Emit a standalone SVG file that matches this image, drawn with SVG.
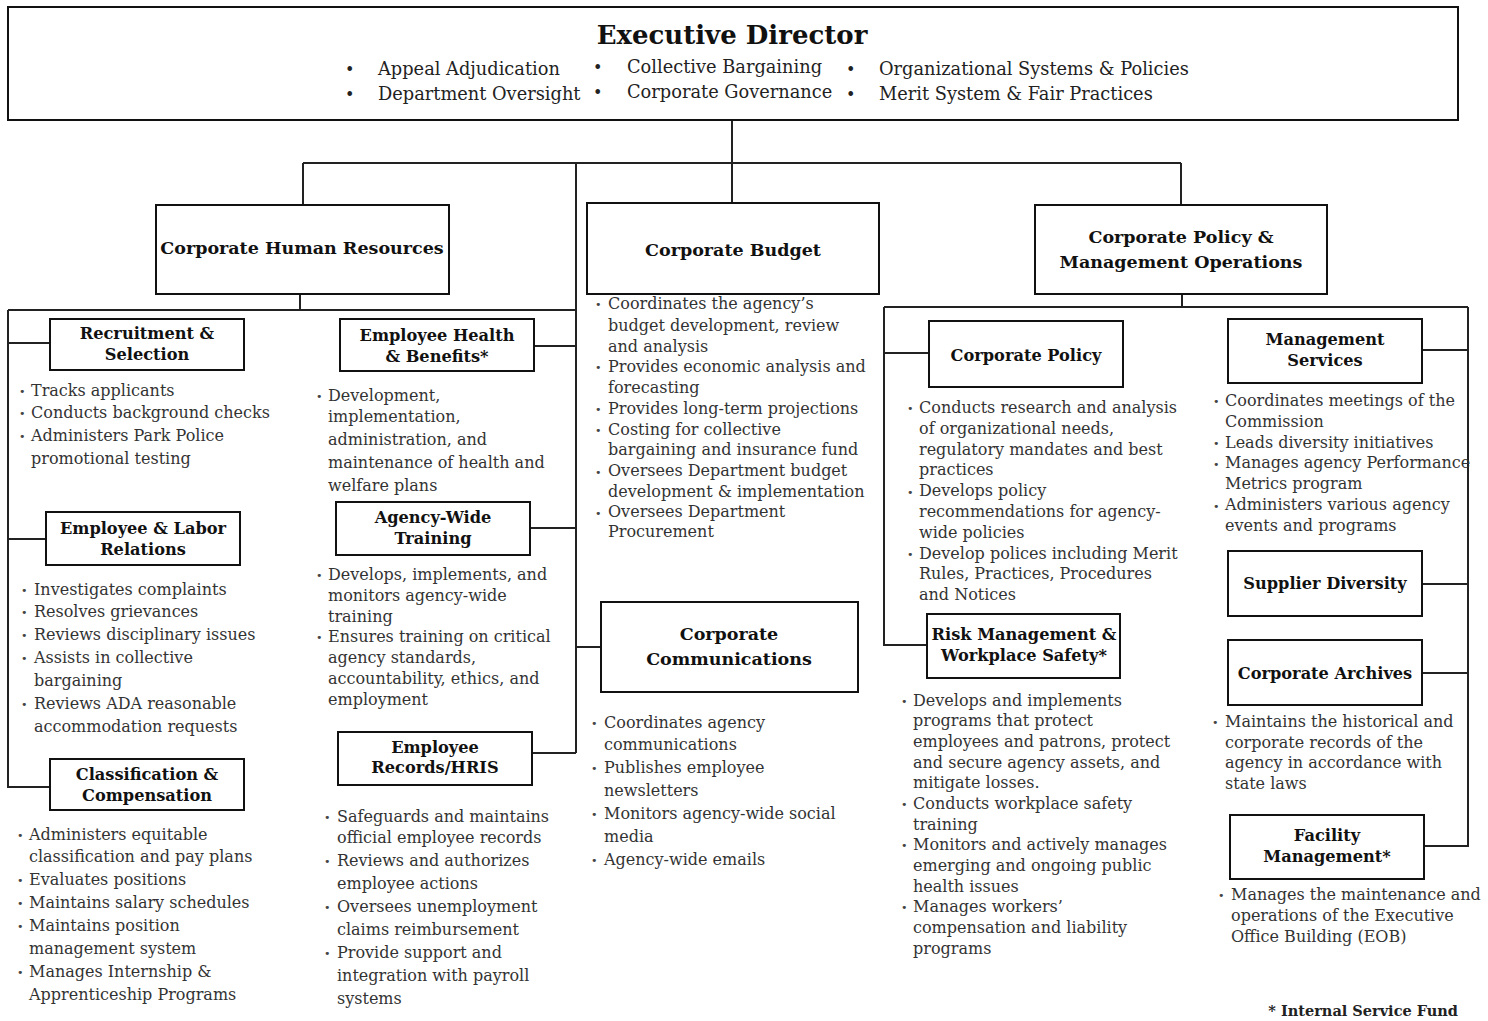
<svg xmlns="http://www.w3.org/2000/svg" width="1488" height="1021" viewBox="0 0 1488 1021">
<style>
.box{fill:#fff;stroke:#111;stroke-width:2}
.ln{fill:none;stroke:#222;stroke-width:2}
.h{font-family:"DejaVu Serif","Liberation Serif",serif;font-weight:bold;font-size:16.2px;fill:#111;text-anchor:middle}
.hl{font-size:17.5px}
.t{font-family:"DejaVu Serif","Liberation Serif",serif;font-size:16px;fill:#333}
.tb{font-family:"DejaVu Serif","Liberation Serif",serif;font-size:16px;fill:#333}
.b{font-family:"DejaVu Sans",sans-serif;font-size:11px;fill:#444}
.top{font-family:"DejaVu Serif","Liberation Serif",serif;font-size:17.8px;fill:#222}
</style>
<rect width="1488" height="1021" fill="#fff"/>
<g id="connectors">
<path class="ln" d="M732 120V203M303 163H1181M303 163V205M1181 163V205M576 163V753"/>
<path class="ln" d="M300 294V310M8 310H576M8 310V787H50M8 343H50M8 539H46M534 346H576M530 528H576M532 753H576M576 647H601"/>
<path class="ln" d="M1182 294V307M884 307H1468M884 307V645H927M884 353H929M1468 307V846H1424M1422 350H1468M1422 584H1468M1422 673H1468"/>
</g>
<g id="exec">
<rect class="box" x="8" y="7" width="1450" height="113"/>
<text x="732" y="44" style="font-family:'DejaVu Serif','Liberation Serif',serif;font-weight:bold;font-size:26px;fill:#111;text-anchor:middle">Executive Director</text>
<text class="top" style="font-size:16px"><tspan x="345" y="75">•</tspan><tspan x="345" y="100">•</tspan><tspan x="593" y="73">•</tspan><tspan x="593" y="98">•</tspan><tspan x="846" y="75">•</tspan><tspan x="846" y="100">•</tspan></text>
<text class="top"><tspan x="378" y="75">Appeal Adjudication</tspan><tspan x="378" y="100">Department Oversight</tspan><tspan x="627" y="73">Collective Bargaining</tspan><tspan x="627" y="98">Corporate Governance</tspan><tspan x="879" y="75">Organizational Systems &amp; Policies</tspan><tspan x="879" y="100">Merit System &amp; Fair Practices</tspan></text>
</g>
<g id="chr">
<rect class="box" x="156" y="205" width="293" height="89"/>
<text class="h hl" x="302" y="254">Corporate Human Resources</text>
</g>
<g id="budget">
<rect class="box" x="587" y="203" width="292" height="91"/>
<text class="h hl" x="733" y="256">Corporate Budget</text>
<text class="b"><tspan x="595" y="308">•</tspan><tspan x="595" y="371">•</tspan><tspan x="595" y="413">•</tspan><tspan x="595" y="434">•</tspan><tspan x="595" y="476">•</tspan><tspan x="595" y="517">•</tspan></text>
<text class="t"><tspan x="608" y="309">Coordinates the agency’s</tspan><tspan x="608" y="331">budget development, review</tspan><tspan x="608" y="352">and analysis</tspan><tspan x="608" y="372">Provides economic analysis and</tspan><tspan x="608" y="393">forecasting</tspan><tspan x="608" y="414">Provides long-term projections</tspan><tspan x="608" y="435">Costing for collective</tspan><tspan x="608" y="455">bargaining and insurance fund</tspan><tspan x="608" y="476">Oversees Department budget</tspan><tspan x="608" y="497">development &amp; implementation</tspan><tspan x="608" y="517">Oversees Department</tspan><tspan x="608" y="537">Procurement</tspan></text>
</g>
<g id="cpmo">
<rect class="box" x="1035" y="205" width="292" height="89"/>
<text class="h hl" x="1181" y="243">Corporate Policy &amp;</text>
<text class="h hl" x="1181" y="268">Management Operations</text>
</g>
<g id="recruit">
<rect class="box" x="50" y="319" width="194" height="51"/>
<text class="h" x="147" y="339">Recruitment &amp;</text>
<text class="h" x="147" y="360">Selection</text>
<text class="b"><tspan x="19" y="395">•</tspan><tspan x="19" y="417">•</tspan><tspan x="19" y="440">•</tspan></text>
<text class="tb"><tspan x="31" y="396">Tracks applicants</tspan><tspan x="31" y="418">Conducts background checks</tspan><tspan x="31" y="441">Administers Park Police</tspan><tspan x="31" y="464">promotional testing</tspan></text>
</g>
<g id="health">
<rect class="box" x="340" y="319" width="194" height="52"/>
<text class="h" x="437" y="341">Employee Health</text>
<text class="h" x="437" y="362">&amp; Benefits*</text>
<text class="b"><tspan x="316" y="400">•</tspan></text>
<text class="tb"><tspan x="328" y="401">Development,</tspan><tspan x="328" y="422">implementation,</tspan><tspan x="328" y="445">administration, and</tspan><tspan x="328" y="468">maintenance of health and</tspan><tspan x="328" y="491">welfare plans</tspan></text>
</g>
<g id="labor">
<rect class="box" x="46" y="512" width="194" height="53"/>
<text class="h" x="143" y="534">Employee &amp; Labor</text>
<text class="h" x="143" y="555">Relations</text>
<text class="b"><tspan x="21" y="594">•</tspan><tspan x="21" y="616">•</tspan><tspan x="21" y="639">•</tspan><tspan x="21" y="662">•</tspan><tspan x="21" y="708">•</tspan></text>
<text class="tb"><tspan x="34" y="595">Investigates complaints</tspan><tspan x="34" y="617">Resolves grievances</tspan><tspan x="34" y="640">Reviews disciplinary issues</tspan><tspan x="34" y="663">Assists in collective</tspan><tspan x="34" y="686">bargaining</tspan><tspan x="34" y="709">Reviews ADA reasonable</tspan><tspan x="34" y="732">accommodation requests</tspan></text>
</g>
<g id="training">
<rect class="box" x="336" y="502" width="194" height="53"/>
<text class="h" x="433" y="523">Agency-Wide</text>
<text class="h" x="433" y="544">Training</text>
<text class="b"><tspan x="316" y="579">•</tspan><tspan x="316" y="641">•</tspan></text>
<text class="tb"><tspan x="328" y="580">Develops, implements, and</tspan><tspan x="328" y="601">monitors agency-wide</tspan><tspan x="328" y="622">training</tspan><tspan x="328" y="642">Ensures training on critical</tspan><tspan x="328" y="663">agency standards,</tspan><tspan x="328" y="684">accountability, ethics, and</tspan><tspan x="328" y="705">employment</tspan></text>
</g>
<g id="classif">
<rect class="box" x="50" y="759" width="194" height="51"/>
<text class="h" x="147" y="780">Classification &amp;</text>
<text class="h" x="147" y="801">Compensation</text>
<text class="b"><tspan x="17" y="839">•</tspan><tspan x="17" y="884">•</tspan><tspan x="17" y="907">•</tspan><tspan x="17" y="930">•</tspan><tspan x="17" y="976">•</tspan></text>
<text class="tb"><tspan x="29" y="840">Administers equitable</tspan><tspan x="29" y="862">classification and pay plans</tspan><tspan x="29" y="885">Evaluates positions</tspan><tspan x="29" y="908">Maintains salary schedules</tspan><tspan x="29" y="931">Maintains position</tspan><tspan x="29" y="954">management system</tspan><tspan x="29" y="977">Manages Internship &amp;</tspan><tspan x="29" y="1000">Apprenticeship Programs</tspan></text>
</g>
<g id="records">
<rect class="box" x="338" y="732" width="194" height="53"/>
<text class="h" x="435" y="753">Employee</text>
<text class="h" x="435" y="773">Records/HRIS</text>
<text class="b"><tspan x="324" y="821">•</tspan><tspan x="324" y="865">•</tspan><tspan x="324" y="911">•</tspan><tspan x="324" y="957">•</tspan></text>
<text class="tb"><tspan x="337" y="822">Safeguards and maintains</tspan><tspan x="337" y="843">official employee records</tspan><tspan x="337" y="866">Reviews and authorizes</tspan><tspan x="337" y="889">employee actions</tspan><tspan x="337" y="912">Oversees unemployment</tspan><tspan x="337" y="935">claims reimbursement</tspan><tspan x="337" y="958">Provide support and</tspan><tspan x="337" y="981">integration with payroll</tspan><tspan x="337" y="1004">systems</tspan></text>
</g>
<g id="comms">
<rect class="box" x="601" y="602" width="257" height="90"/>
<text class="h hl" x="729" y="640">Corporate</text>
<text class="h hl" x="729" y="665">Communications</text>
<text class="b"><tspan x="591" y="727">•</tspan><tspan x="591" y="772">•</tspan><tspan x="591" y="818">•</tspan><tspan x="591" y="864">•</tspan></text>
<text class="tb"><tspan x="604" y="728">Coordinates agency</tspan><tspan x="604" y="750">communications</tspan><tspan x="604" y="773">Publishes employee</tspan><tspan x="604" y="796">newsletters</tspan><tspan x="604" y="819">Monitors agency-wide social</tspan><tspan x="604" y="842">media</tspan><tspan x="604" y="865">Agency-wide emails</tspan></text>
</g>
<g id="policy">
<rect class="box" x="929" y="321" width="194" height="66"/>
<text class="h" x="1026" y="361">Corporate Policy</text>
<text class="b"><tspan x="907" y="412">•</tspan><tspan x="907" y="496">•</tspan><tspan x="907" y="558">•</tspan></text>
<text class="t"><tspan x="919" y="413">Conducts research and analysis</tspan><tspan x="919" y="434">of organizational needs,</tspan><tspan x="919" y="455">regulatory mandates and best</tspan><tspan x="919" y="475">practices</tspan><tspan x="919" y="496">Develops policy</tspan><tspan x="919" y="517">recommendations for agency-</tspan><tspan x="919" y="538">wide policies</tspan><tspan x="919" y="559">Develop polices including Merit</tspan><tspan x="919" y="579">Rules, Practices, Procedures</tspan><tspan x="919" y="600">and Notices</tspan></text>
</g>
<g id="risk">
<rect class="box" x="927" y="614" width="193" height="64"/>
<text class="h" x="1024" y="640">Risk Management &amp;</text>
<text class="h" x="1024" y="661">Workplace Safety*</text>
<text class="b"><tspan x="901" y="705">•</tspan><tspan x="901" y="808">•</tspan><tspan x="901" y="849">•</tspan><tspan x="901" y="911">•</tspan></text>
<text class="t"><tspan x="913" y="706">Develops and implements</tspan><tspan x="913" y="726">programs that protect</tspan><tspan x="913" y="747">employees and patrons, protect</tspan><tspan x="913" y="768">and secure agency assets, and</tspan><tspan x="913" y="788">mitigate losses.</tspan><tspan x="913" y="809">Conducts workplace safety</tspan><tspan x="913" y="830">training</tspan><tspan x="913" y="850">Monitors and actively manages</tspan><tspan x="913" y="871">emerging and ongoing public</tspan><tspan x="913" y="892">health issues</tspan><tspan x="913" y="912">Manages workers’</tspan><tspan x="913" y="933">compensation and liability</tspan><tspan x="913" y="954">programs</tspan></text>
</g>
<g id="mgmt">
<rect class="box" x="1228" y="319" width="194" height="64"/>
<text class="h" x="1325" y="345">Management</text>
<text class="h" x="1325" y="366">Services</text>
<text class="b"><tspan x="1213" y="405">•</tspan><tspan x="1213" y="447">•</tspan><tspan x="1213" y="468">•</tspan><tspan x="1213" y="510">•</tspan></text>
<text class="t"><tspan x="1225" y="406">Coordinates meetings of the</tspan><tspan x="1225" y="427">Commission</tspan><tspan x="1225" y="448">Leads diversity initiatives</tspan><tspan x="1225" y="468">Manages agency Performance</tspan><tspan x="1225" y="489">Metrics program</tspan><tspan x="1225" y="510">Administers various agency</tspan><tspan x="1225" y="531">events and programs</tspan></text>
</g>
<g id="supplier">
<rect class="box" x="1228" y="551" width="194" height="65"/>
<text class="h" x="1325" y="589">Supplier Diversity</text>
</g>
<g id="archives">
<rect class="box" x="1228" y="640" width="194" height="65"/>
<text class="h" x="1325" y="679">Corporate Archives</text>
<text class="b"><tspan x="1212" y="726">•</tspan></text>
<text class="t"><tspan x="1225" y="727">Maintains the historical and</tspan><tspan x="1225" y="748">corporate records of the</tspan><tspan x="1225" y="768">agency in accordance with</tspan><tspan x="1225" y="789">state laws</tspan></text>
</g>
<g id="facility">
<rect class="box" x="1230" y="815" width="194" height="64"/>
<text class="h" x="1327" y="841">Facility</text>
<text class="h" x="1327" y="862">Management*</text>
<text class="b"><tspan x="1218" y="899">•</tspan></text>
<text class="t"><tspan x="1231" y="900">Manages the maintenance and</tspan><tspan x="1231" y="921">operations of the Executive</tspan><tspan x="1231" y="942">Office Building (EOB)</tspan></text>
</g>
<g id="footnote">
<text x="1458" y="1016" style="font-family:'DejaVu Serif','Liberation Serif',serif;font-weight:bold;font-size:14.5px;fill:#222;text-anchor:end">* Internal Service Fund</text>
</g>
</svg>
